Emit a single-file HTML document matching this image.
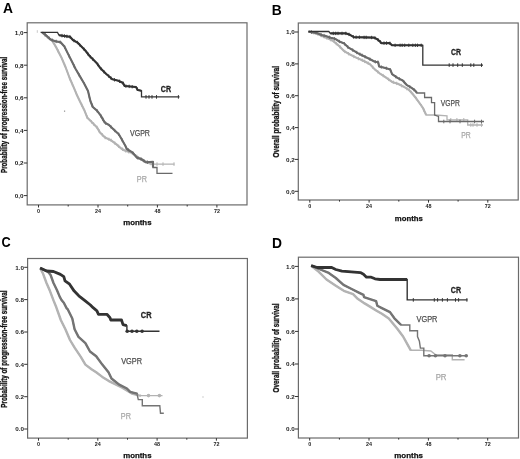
<!DOCTYPE html><html><head><meta charset="utf-8"><style>html,body{margin:0;padding:0;background:#fff;}svg{display:block;filter:blur(0.2px);}</style></head><body>
<svg width="520" height="459" viewBox="0 0 520 459" font-family='"Liberation Sans", sans-serif'>
<rect width="520" height="459" fill="#fff"/>
<text x="3.0" y="12.7" font-size="14" font-weight="bold" fill="#000" textLength="10" lengthAdjust="spacingAndGlyphs">A</text>
<rect x="27.2" y="22.8" width="219.8" height="182.1" fill="none" stroke="#6b6b6b" stroke-width="1.2"/>
<line x1="23.8" y1="195.6" x2="27.2" y2="195.6" stroke="#333" stroke-width="1"/>
<text x="23.6" y="198.0" font-size="5.6" font-weight="bold" fill="#222" text-anchor="end" textLength="8.8" lengthAdjust="spacingAndGlyphs">0,0</text>
<line x1="23.8" y1="163.0" x2="27.2" y2="163.0" stroke="#333" stroke-width="1"/>
<text x="23.6" y="165.4" font-size="5.6" font-weight="bold" fill="#222" text-anchor="end" textLength="8.8" lengthAdjust="spacingAndGlyphs">0,2</text>
<line x1="23.8" y1="130.4" x2="27.2" y2="130.4" stroke="#333" stroke-width="1"/>
<text x="23.6" y="132.8" font-size="5.6" font-weight="bold" fill="#222" text-anchor="end" textLength="8.8" lengthAdjust="spacingAndGlyphs">0,4</text>
<line x1="23.8" y1="97.8" x2="27.2" y2="97.8" stroke="#333" stroke-width="1"/>
<text x="23.6" y="100.2" font-size="5.6" font-weight="bold" fill="#222" text-anchor="end" textLength="8.8" lengthAdjust="spacingAndGlyphs">0,6</text>
<line x1="23.8" y1="65.2" x2="27.2" y2="65.2" stroke="#333" stroke-width="1"/>
<text x="23.6" y="67.6" font-size="5.6" font-weight="bold" fill="#222" text-anchor="end" textLength="8.8" lengthAdjust="spacingAndGlyphs">0,8</text>
<line x1="23.8" y1="32.6" x2="27.2" y2="32.6" stroke="#333" stroke-width="1"/>
<text x="23.6" y="35.0" font-size="5.6" font-weight="bold" fill="#222" text-anchor="end" textLength="8.8" lengthAdjust="spacingAndGlyphs">1,0</text>
<line x1="38.5" y1="204.9" x2="38.5" y2="207.5" stroke="#333" stroke-width="1"/>
<text x="38.5" y="212.7" font-size="5.4" font-weight="bold" fill="#222" text-anchor="middle">0</text>
<line x1="68.2" y1="204.9" x2="68.2" y2="206.5" stroke="#333" stroke-width="1"/>
<line x1="98.0" y1="204.9" x2="98.0" y2="207.5" stroke="#333" stroke-width="1"/>
<text x="98.0" y="212.7" font-size="5.4" font-weight="bold" fill="#222" text-anchor="middle">24</text>
<line x1="127.7" y1="204.9" x2="127.7" y2="206.5" stroke="#333" stroke-width="1"/>
<line x1="157.4" y1="204.9" x2="157.4" y2="207.5" stroke="#333" stroke-width="1"/>
<text x="157.4" y="212.7" font-size="5.4" font-weight="bold" fill="#222" text-anchor="middle">48</text>
<line x1="187.2" y1="204.9" x2="187.2" y2="206.5" stroke="#333" stroke-width="1"/>
<line x1="216.9" y1="204.9" x2="216.9" y2="207.5" stroke="#333" stroke-width="1"/>
<text x="216.9" y="212.7" font-size="5.4" font-weight="bold" fill="#222" text-anchor="middle">72</text>
<text x="123.2" y="224.5" font-size="7.8" font-weight="bold" fill="#111" stroke="#111" stroke-width="0.25" textLength="28.3" lengthAdjust="spacingAndGlyphs">months</text>
<text transform="translate(7.0,173.0) rotate(-90)" x="0" y="0" font-size="8.2" font-weight="bold" fill="#111" stroke="#111" stroke-width="0.3" textLength="116.2" lengthAdjust="spacingAndGlyphs">Probability of progression-free survival</text>
<polyline points="42.2,32.4 46.0,36.0 51.0,39.8 52.6,41.3 56.5,47.9 61.8,58.3 65.7,67.5 69.6,78.0 73.6,87.1 77.5,96.3 80.0,101.5 84.6,110.8 87.4,117.8 92.2,122.6 97.0,127.4 100.0,132.5 105.0,137.5 110.8,140.1 116.5,144.4 121.2,148.5 124.6,150.5 127.7,151.5 132.3,153.0 137.0,156.5 141.5,159.5 146.0,162.0 150.0,163.5 153.0,164.1 174.5,164.1" fill="none" stroke="#b3b3b3" stroke-width="1.3" stroke-linejoin="miter" stroke-linecap="butt"/>
<polyline points="42.2,32.4 46.0,36.0 51.0,39.8 52.6,41.3 56.5,47.9 61.8,58.3 65.7,67.5 69.6,78.0 73.6,87.1 77.5,96.3 80.0,101.5 84.6,110.8 87.4,117.8 92.2,122.6 97.0,127.4 100.0,132.5 105.0,137.5 110.8,140.1 116.5,144.4 121.2,148.5 124.6,150.5 127.7,151.5 132.3,153.0 137.0,156.5 141.5,159.5 146.0,162.0 150.0,163.5 153.0,164.1" fill="none" stroke="#b3b3b3" stroke-width="2.1" stroke-linejoin="round" stroke-linecap="butt"/>
<line x1="45.2" y1="33.5" x2="45.2" y2="36.9" stroke="#b3b3b3" stroke-width="0.9"/>
<line x1="47.4" y1="35.4" x2="47.4" y2="38.8" stroke="#b3b3b3" stroke-width="0.9"/>
<line x1="52.7" y1="39.8" x2="52.7" y2="43.2" stroke="#b3b3b3" stroke-width="0.9"/>
<line x1="57.9" y1="49.0" x2="57.9" y2="52.4" stroke="#b3b3b3" stroke-width="0.9"/>
<line x1="61.5" y1="56.0" x2="61.5" y2="59.4" stroke="#b3b3b3" stroke-width="0.9"/>
<line x1="64.6" y1="63.2" x2="64.6" y2="66.6" stroke="#b3b3b3" stroke-width="0.9"/>
<line x1="70.0" y1="77.2" x2="70.0" y2="80.6" stroke="#b3b3b3" stroke-width="0.9"/>
<line x1="72.4" y1="82.7" x2="72.4" y2="86.1" stroke="#b3b3b3" stroke-width="0.9"/>
<line x1="76.4" y1="91.9" x2="76.4" y2="95.3" stroke="#b3b3b3" stroke-width="0.9"/>
<line x1="81.7" y1="103.3" x2="81.7" y2="106.7" stroke="#b3b3b3" stroke-width="0.9"/>
<line x1="87.2" y1="115.5" x2="87.2" y2="118.9" stroke="#b3b3b3" stroke-width="0.9"/>
<line x1="91.5" y1="120.2" x2="91.5" y2="123.6" stroke="#b3b3b3" stroke-width="0.9"/>
<line x1="93.6" y1="122.3" x2="93.6" y2="125.7" stroke="#b3b3b3" stroke-width="0.9"/>
<line x1="97.0" y1="125.7" x2="97.0" y2="129.1" stroke="#b3b3b3" stroke-width="0.9"/>
<line x1="99.0" y1="129.1" x2="99.0" y2="132.5" stroke="#b3b3b3" stroke-width="0.9"/>
<line x1="102.4" y1="133.2" x2="102.4" y2="136.6" stroke="#b3b3b3" stroke-width="0.9"/>
<line x1="105.2" y1="135.9" x2="105.2" y2="139.3" stroke="#b3b3b3" stroke-width="0.9"/>
<line x1="108.9" y1="137.6" x2="108.9" y2="141.0" stroke="#b3b3b3" stroke-width="0.9"/>
<line x1="111.1" y1="138.6" x2="111.1" y2="142.0" stroke="#b3b3b3" stroke-width="0.9"/>
<line x1="114.8" y1="141.4" x2="114.8" y2="144.8" stroke="#b3b3b3" stroke-width="0.9"/>
<line x1="118.7" y1="144.6" x2="118.7" y2="148.0" stroke="#b3b3b3" stroke-width="0.9"/>
<line x1="122.5" y1="147.6" x2="122.5" y2="151.0" stroke="#b3b3b3" stroke-width="0.9"/>
<line x1="125.7" y1="149.2" x2="125.7" y2="152.6" stroke="#b3b3b3" stroke-width="0.9"/>
<line x1="128.7" y1="150.1" x2="128.7" y2="153.5" stroke="#b3b3b3" stroke-width="0.9"/>
<line x1="132.1" y1="151.2" x2="132.1" y2="154.6" stroke="#b3b3b3" stroke-width="0.9"/>
<line x1="136.9" y1="154.7" x2="136.9" y2="158.1" stroke="#b3b3b3" stroke-width="0.9"/>
<line x1="140.6" y1="157.2" x2="140.6" y2="160.6" stroke="#b3b3b3" stroke-width="0.9"/>
<line x1="142.9" y1="158.6" x2="142.9" y2="162.0" stroke="#b3b3b3" stroke-width="0.9"/>
<line x1="146.2" y1="160.4" x2="146.2" y2="163.8" stroke="#b3b3b3" stroke-width="0.9"/>
<line x1="151.0" y1="162.0" x2="151.0" y2="165.4" stroke="#b3b3b3" stroke-width="0.9"/>
<line x1="157" y1="162.3" x2="157" y2="165.9" stroke="#b3b3b3" stroke-width="1"/>
<line x1="163" y1="162.3" x2="163" y2="165.9" stroke="#b3b3b3" stroke-width="1"/>
<line x1="174" y1="162.3" x2="174" y2="165.9" stroke="#b3b3b3" stroke-width="1"/>
<polyline points="42.2,32.4 46.0,35.2 50.6,39.5 56.0,41.4 60.6,42.2 64.4,46.5 68.3,54.4 72.3,62.3 75.5,68.8 80.1,76.6 84.0,83.2 88.0,91.0 90.4,101.0 92.8,107.0 97.0,110.6 100.6,115.4 104.8,122.6 109.0,125.0 114.2,130.0 118.8,134.3 121.7,139.2 124.6,144.4 126.9,149.0 132.3,152.3 137.0,157.7 141.5,159.2 146.0,162.3 153.0,161.8 153.0,167.5 157.0,167.5 157.0,173.3 172.5,173.3" fill="none" stroke="#6a6a6a" stroke-width="1.3" stroke-linejoin="miter" stroke-linecap="butt"/>
<polyline points="42.2,32.4 46.0,35.2 50.6,39.5 56.0,41.4 60.6,42.2 64.4,46.5 68.3,54.4 72.3,62.3 75.5,68.8 80.1,76.6 84.0,83.2 88.0,91.0 90.4,101.0 92.8,107.0 97.0,110.6 100.6,115.4 104.8,122.6 109.0,125.0 114.2,130.0 118.8,134.3 121.7,139.2 124.6,144.4 126.9,149.0 132.3,152.3 137.0,157.7 141.5,159.2 146.0,162.3 153.0,161.8 153.0,167.5" fill="none" stroke="#6a6a6a" stroke-width="2.1" stroke-linejoin="round" stroke-linecap="butt"/>
<line x1="45.2" y1="32.9" x2="45.2" y2="36.3" stroke="#6a6a6a" stroke-width="0.9"/>
<line x1="49.4" y1="36.7" x2="49.4" y2="40.1" stroke="#6a6a6a" stroke-width="0.9"/>
<line x1="52.2" y1="38.4" x2="52.2" y2="41.8" stroke="#6a6a6a" stroke-width="0.9"/>
<line x1="56.2" y1="39.7" x2="56.2" y2="43.1" stroke="#6a6a6a" stroke-width="0.9"/>
<line x1="60.1" y1="40.4" x2="60.1" y2="43.8" stroke="#6a6a6a" stroke-width="0.9"/>
<line x1="64.7" y1="45.5" x2="64.7" y2="48.9" stroke="#6a6a6a" stroke-width="0.9"/>
<line x1="69.2" y1="54.5" x2="69.2" y2="57.9" stroke="#6a6a6a" stroke-width="0.9"/>
<line x1="74.0" y1="64.1" x2="74.0" y2="67.5" stroke="#6a6a6a" stroke-width="0.9"/>
<line x1="79.2" y1="73.4" x2="79.2" y2="76.8" stroke="#6a6a6a" stroke-width="0.9"/>
<line x1="84.5" y1="82.5" x2="84.5" y2="85.9" stroke="#6a6a6a" stroke-width="0.9"/>
<line x1="89.3" y1="94.9" x2="89.3" y2="98.3" stroke="#6a6a6a" stroke-width="0.9"/>
<line x1="92.2" y1="103.7" x2="92.2" y2="107.1" stroke="#6a6a6a" stroke-width="0.9"/>
<line x1="97.0" y1="109.0" x2="97.0" y2="112.4" stroke="#6a6a6a" stroke-width="0.9"/>
<line x1="100.8" y1="114.1" x2="100.8" y2="117.5" stroke="#6a6a6a" stroke-width="0.9"/>
<line x1="102.9" y1="117.6" x2="102.9" y2="121.0" stroke="#6a6a6a" stroke-width="0.9"/>
<line x1="105.6" y1="121.4" x2="105.6" y2="124.8" stroke="#6a6a6a" stroke-width="0.9"/>
<line x1="110.9" y1="125.1" x2="110.9" y2="128.5" stroke="#6a6a6a" stroke-width="0.9"/>
<line x1="114.7" y1="128.8" x2="114.7" y2="132.2" stroke="#6a6a6a" stroke-width="0.9"/>
<line x1="118.7" y1="132.5" x2="118.7" y2="135.9" stroke="#6a6a6a" stroke-width="0.9"/>
<line x1="122.1" y1="138.2" x2="122.1" y2="141.6" stroke="#6a6a6a" stroke-width="0.9"/>
<line x1="125.7" y1="145.0" x2="125.7" y2="148.4" stroke="#6a6a6a" stroke-width="0.9"/>
<line x1="128.2" y1="148.1" x2="128.2" y2="151.5" stroke="#6a6a6a" stroke-width="0.9"/>
<line x1="133.3" y1="151.8" x2="133.3" y2="155.2" stroke="#6a6a6a" stroke-width="0.9"/>
<line x1="137.9" y1="156.3" x2="137.9" y2="159.7" stroke="#6a6a6a" stroke-width="0.9"/>
<line x1="141.2" y1="157.4" x2="141.2" y2="160.8" stroke="#6a6a6a" stroke-width="0.9"/>
<line x1="144.0" y1="159.2" x2="144.0" y2="162.6" stroke="#6a6a6a" stroke-width="0.9"/>
<line x1="147.5" y1="160.5" x2="147.5" y2="163.9" stroke="#6a6a6a" stroke-width="0.9"/>
<polyline points="40.6,32.4 57.5,32.4 59.0,35.2 67.0,36.4 70.0,36.8 72.9,40.0 77.5,42.6 81.4,46.5 85.3,50.5 89.3,55.7 93.2,59.6 97.1,63.6 100.0,67.7 106.0,73.8 112.3,79.2 118.5,80.8 123.0,83.0 124.6,86.0 136.0,87.0 137.7,90.0 141.5,90.8 141.5,96.9 179.5,96.9" fill="none" stroke="#333" stroke-width="1.3" stroke-linejoin="miter" stroke-linecap="butt"/>
<polyline points="59.0,35.2 59.0,35.2 67.0,36.4 70.0,36.8 72.9,40.0 77.5,42.6 81.4,46.5 85.3,50.5 89.3,55.7 93.2,59.6 97.1,63.6 100.0,67.7 106.0,73.8 112.3,79.2 118.5,80.8 123.0,83.0 124.6,86.0 136.0,87.0 137.7,90.0 141.3,90.8" fill="none" stroke="#333" stroke-width="2.1" stroke-linejoin="round" stroke-linecap="butt"/>
<line x1="62.0" y1="33.9" x2="62.0" y2="37.4" stroke="#333" stroke-width="0.9"/>
<line x1="64.5" y1="34.3" x2="64.5" y2="37.7" stroke="#333" stroke-width="0.9"/>
<line x1="66.9" y1="34.7" x2="66.9" y2="38.1" stroke="#333" stroke-width="0.9"/>
<line x1="69.9" y1="35.1" x2="69.9" y2="38.5" stroke="#333" stroke-width="0.9"/>
<line x1="74.0" y1="38.9" x2="74.0" y2="42.3" stroke="#333" stroke-width="0.9"/>
<line x1="77.4" y1="40.8" x2="77.4" y2="44.2" stroke="#333" stroke-width="0.9"/>
<line x1="79.6" y1="43.0" x2="79.6" y2="46.4" stroke="#333" stroke-width="0.9"/>
<line x1="84.1" y1="47.6" x2="84.1" y2="51.0" stroke="#333" stroke-width="0.9"/>
<line x1="87.8" y1="52.1" x2="87.8" y2="55.5" stroke="#333" stroke-width="0.9"/>
<line x1="90.3" y1="55.0" x2="90.3" y2="58.4" stroke="#333" stroke-width="0.9"/>
<line x1="92.8" y1="57.5" x2="92.8" y2="60.9" stroke="#333" stroke-width="0.9"/>
<line x1="97.8" y1="62.8" x2="97.8" y2="66.2" stroke="#333" stroke-width="0.9"/>
<line x1="101.0" y1="67.0" x2="101.0" y2="70.4" stroke="#333" stroke-width="0.9"/>
<line x1="103.9" y1="70.0" x2="103.9" y2="73.4" stroke="#333" stroke-width="0.9"/>
<line x1="108.7" y1="74.4" x2="108.7" y2="77.8" stroke="#333" stroke-width="0.9"/>
<line x1="110.9" y1="76.3" x2="110.9" y2="79.7" stroke="#333" stroke-width="0.9"/>
<line x1="114.5" y1="78.1" x2="114.5" y2="81.5" stroke="#333" stroke-width="0.9"/>
<line x1="119.6" y1="79.6" x2="119.6" y2="83.0" stroke="#333" stroke-width="0.9"/>
<line x1="123.0" y1="81.4" x2="123.0" y2="84.8" stroke="#333" stroke-width="0.9"/>
<line x1="125.9" y1="84.4" x2="125.9" y2="87.8" stroke="#333" stroke-width="0.9"/>
<line x1="129.2" y1="84.7" x2="129.2" y2="88.1" stroke="#333" stroke-width="0.9"/>
<line x1="132.2" y1="85.0" x2="132.2" y2="88.4" stroke="#333" stroke-width="0.9"/>
<line x1="137.2" y1="87.3" x2="137.2" y2="90.7" stroke="#333" stroke-width="0.9"/>
<line x1="146" y1="95.1" x2="146" y2="98.7" stroke="#333" stroke-width="1"/>
<line x1="149" y1="95.1" x2="149" y2="98.7" stroke="#333" stroke-width="1"/>
<line x1="152" y1="95.1" x2="152" y2="98.7" stroke="#333" stroke-width="1"/>
<line x1="156.5" y1="95.1" x2="156.5" y2="98.7" stroke="#333" stroke-width="1"/>
<line x1="178.4" y1="95.1" x2="178.4" y2="98.7" stroke="#333" stroke-width="1"/>
<text x="160.8" y="91.5" font-size="8.6" font-weight="bold" fill="#222" stroke="#222" stroke-width="0.3" textLength="10.3" lengthAdjust="spacingAndGlyphs">CR</text>
<text x="130" y="136.0" font-size="8.3" font-weight="normal" fill="#505050" stroke="#505050" stroke-width="0.25" textLength="19.9" lengthAdjust="spacingAndGlyphs">VGPR</text>
<text x="136.8" y="181.6" font-size="8.3" font-weight="normal" fill="#a8a8a8" stroke="#a8a8a8" stroke-width="0.25" textLength="10.1" lengthAdjust="spacingAndGlyphs">PR</text>
<text x="271.8" y="14.6" font-size="14" font-weight="bold" fill="#000" textLength="10" lengthAdjust="spacingAndGlyphs">B</text>
<rect x="298.3" y="23.0" width="219.9" height="177.0" fill="none" stroke="#6b6b6b" stroke-width="1.2"/>
<line x1="294.9" y1="191.3" x2="298.3" y2="191.3" stroke="#333" stroke-width="1"/>
<text x="294.7" y="193.7" font-size="5.6" font-weight="bold" fill="#222" text-anchor="end" textLength="8.8" lengthAdjust="spacingAndGlyphs">0,0</text>
<line x1="294.9" y1="159.4" x2="298.3" y2="159.4" stroke="#333" stroke-width="1"/>
<text x="294.7" y="161.8" font-size="5.6" font-weight="bold" fill="#222" text-anchor="end" textLength="8.8" lengthAdjust="spacingAndGlyphs">0,2</text>
<line x1="294.9" y1="127.6" x2="298.3" y2="127.6" stroke="#333" stroke-width="1"/>
<text x="294.7" y="130.0" font-size="5.6" font-weight="bold" fill="#222" text-anchor="end" textLength="8.8" lengthAdjust="spacingAndGlyphs">0,4</text>
<line x1="294.9" y1="95.7" x2="298.3" y2="95.7" stroke="#333" stroke-width="1"/>
<text x="294.7" y="98.1" font-size="5.6" font-weight="bold" fill="#222" text-anchor="end" textLength="8.8" lengthAdjust="spacingAndGlyphs">0,6</text>
<line x1="294.9" y1="63.9" x2="298.3" y2="63.9" stroke="#333" stroke-width="1"/>
<text x="294.7" y="66.3" font-size="5.6" font-weight="bold" fill="#222" text-anchor="end" textLength="8.8" lengthAdjust="spacingAndGlyphs">0,8</text>
<line x1="294.9" y1="32.0" x2="298.3" y2="32.0" stroke="#333" stroke-width="1"/>
<text x="294.7" y="34.4" font-size="5.6" font-weight="bold" fill="#222" text-anchor="end" textLength="8.8" lengthAdjust="spacingAndGlyphs">1,0</text>
<line x1="309.8" y1="200.0" x2="309.8" y2="202.6" stroke="#333" stroke-width="1"/>
<text x="309.8" y="207.8" font-size="5.4" font-weight="bold" fill="#222" text-anchor="middle">0</text>
<line x1="339.5" y1="200.0" x2="339.5" y2="201.6" stroke="#333" stroke-width="1"/>
<line x1="369.1" y1="200.0" x2="369.1" y2="202.6" stroke="#333" stroke-width="1"/>
<text x="369.1" y="207.8" font-size="5.4" font-weight="bold" fill="#222" text-anchor="middle">24</text>
<line x1="398.8" y1="200.0" x2="398.8" y2="201.6" stroke="#333" stroke-width="1"/>
<line x1="428.5" y1="200.0" x2="428.5" y2="202.6" stroke="#333" stroke-width="1"/>
<text x="428.5" y="207.8" font-size="5.4" font-weight="bold" fill="#222" text-anchor="middle">48</text>
<line x1="458.1" y1="200.0" x2="458.1" y2="201.6" stroke="#333" stroke-width="1"/>
<line x1="487.8" y1="200.0" x2="487.8" y2="202.6" stroke="#333" stroke-width="1"/>
<text x="487.8" y="207.8" font-size="5.4" font-weight="bold" fill="#222" text-anchor="middle">72</text>
<text x="394.8" y="220.6" font-size="7.8" font-weight="bold" fill="#111" stroke="#111" stroke-width="0.25" textLength="28.0" lengthAdjust="spacingAndGlyphs">months</text>
<text transform="translate(279.2,157.5) rotate(-90)" x="0" y="0" font-size="8.2" font-weight="bold" fill="#111" stroke="#111" stroke-width="0.3" textLength="91.5" lengthAdjust="spacingAndGlyphs">Overall probability of survival</text>
<polyline points="308.5,31.6 316.5,33.5 325.0,37.2 332.7,40.6 339.4,46.3 344.2,51.2 350.0,54.5 356.7,57.9 363.5,60.8 370.0,64.2 374.8,69.4 379.6,73.3 385.4,77.1 392.1,81.9 397.9,83.8 403.7,86.7 408.5,89.6 412.3,93.5 416.5,98.8 422.7,107.5 426.2,115.0 435.4,115.0 447.0,115.8 447.0,119.8 467.7,119.8 467.7,125.0 483.0,125.0" fill="none" stroke="#b3b3b3" stroke-width="1.3" stroke-linejoin="miter" stroke-linecap="butt"/>
<polyline points="308.5,31.6 316.5,33.5 325.0,37.2 332.7,40.6 339.4,46.3 344.2,51.2 350.0,54.5 356.7,57.9 363.5,60.8 370.0,64.2 374.8,69.4 379.6,73.3 385.4,77.1 392.1,81.9 397.9,83.8 403.7,86.7 408.5,89.6 412.3,93.5 416.5,98.8 422.7,107.5 426.2,115.0" fill="none" stroke="#b3b3b3" stroke-width="2.1" stroke-linejoin="round" stroke-linecap="butt"/>
<line x1="311.5" y1="30.6" x2="311.5" y2="34.0" stroke="#b3b3b3" stroke-width="0.9"/>
<line x1="313.9" y1="31.2" x2="313.9" y2="34.6" stroke="#b3b3b3" stroke-width="0.9"/>
<line x1="317.9" y1="32.4" x2="317.9" y2="35.8" stroke="#b3b3b3" stroke-width="0.9"/>
<line x1="321.2" y1="33.9" x2="321.2" y2="37.3" stroke="#b3b3b3" stroke-width="0.9"/>
<line x1="324.1" y1="35.1" x2="324.1" y2="38.5" stroke="#b3b3b3" stroke-width="0.9"/>
<line x1="326.7" y1="36.2" x2="326.7" y2="39.6" stroke="#b3b3b3" stroke-width="0.9"/>
<line x1="331.0" y1="38.2" x2="331.0" y2="41.6" stroke="#b3b3b3" stroke-width="0.9"/>
<line x1="336.3" y1="41.9" x2="336.3" y2="45.3" stroke="#b3b3b3" stroke-width="0.9"/>
<line x1="340.0" y1="45.2" x2="340.0" y2="48.6" stroke="#b3b3b3" stroke-width="0.9"/>
<line x1="344.8" y1="49.8" x2="344.8" y2="53.2" stroke="#b3b3b3" stroke-width="0.9"/>
<line x1="348.5" y1="52.0" x2="348.5" y2="55.4" stroke="#b3b3b3" stroke-width="0.9"/>
<line x1="353.8" y1="54.8" x2="353.8" y2="58.2" stroke="#b3b3b3" stroke-width="0.9"/>
<line x1="358.4" y1="56.9" x2="358.4" y2="60.3" stroke="#b3b3b3" stroke-width="0.9"/>
<line x1="362.3" y1="58.6" x2="362.3" y2="62.0" stroke="#b3b3b3" stroke-width="0.9"/>
<line x1="364.6" y1="59.7" x2="364.6" y2="63.1" stroke="#b3b3b3" stroke-width="0.9"/>
<line x1="368.2" y1="61.5" x2="368.2" y2="64.9" stroke="#b3b3b3" stroke-width="0.9"/>
<line x1="372.8" y1="65.6" x2="372.8" y2="69.0" stroke="#b3b3b3" stroke-width="0.9"/>
<line x1="377.8" y1="70.1" x2="377.8" y2="73.5" stroke="#b3b3b3" stroke-width="0.9"/>
<line x1="383.2" y1="73.9" x2="383.2" y2="77.3" stroke="#b3b3b3" stroke-width="0.9"/>
<line x1="388.6" y1="77.7" x2="388.6" y2="81.1" stroke="#b3b3b3" stroke-width="0.9"/>
<line x1="393.4" y1="80.6" x2="393.4" y2="84.0" stroke="#b3b3b3" stroke-width="0.9"/>
<line x1="396.7" y1="81.7" x2="396.7" y2="85.1" stroke="#b3b3b3" stroke-width="0.9"/>
<line x1="401.5" y1="83.9" x2="401.5" y2="87.3" stroke="#b3b3b3" stroke-width="0.9"/>
<line x1="406.9" y1="87.0" x2="406.9" y2="90.4" stroke="#b3b3b3" stroke-width="0.9"/>
<line x1="411.4" y1="90.8" x2="411.4" y2="94.2" stroke="#b3b3b3" stroke-width="0.9"/>
<line x1="416.4" y1="96.9" x2="416.4" y2="100.3" stroke="#b3b3b3" stroke-width="0.9"/>
<line x1="421.4" y1="104.0" x2="421.4" y2="107.4" stroke="#b3b3b3" stroke-width="0.9"/>
<line x1="424.0" y1="108.6" x2="424.0" y2="112.0" stroke="#b3b3b3" stroke-width="0.9"/>
<line x1="450.8" y1="118.0" x2="450.8" y2="121.6" stroke="#b3b3b3" stroke-width="1"/>
<line x1="456.9" y1="118.0" x2="456.9" y2="121.6" stroke="#b3b3b3" stroke-width="1"/>
<line x1="463.8" y1="118.0" x2="463.8" y2="121.6" stroke="#b3b3b3" stroke-width="1"/>
<line x1="470.8" y1="123.2" x2="470.8" y2="126.8" stroke="#b3b3b3" stroke-width="1"/>
<line x1="473" y1="123.2" x2="473" y2="126.8" stroke="#b3b3b3" stroke-width="1"/>
<line x1="477" y1="123.2" x2="477" y2="126.8" stroke="#b3b3b3" stroke-width="1"/>
<line x1="481.5" y1="123.2" x2="481.5" y2="126.8" stroke="#b3b3b3" stroke-width="1"/>
<polyline points="308.5,31.6 316.5,32.9 322.3,35.2 325.0,35.8 330.8,37.7 335.6,39.1 339.4,41.5 344.2,43.5 348.1,47.3 352.9,50.2 357.7,53.1 363.5,56.0 369.2,58.8 374.8,61.7 378.2,62.2 379.1,66.5 385.4,68.0 390.2,69.4 392.1,74.2 397.9,78.1 402.7,80.5 406.5,84.8 411.3,87.7 415.2,90.6 417.0,93.0 424.6,93.0 424.6,97.5 431.5,97.5 431.5,102.7 434.6,102.7 434.6,115.0 438.5,116.5 438.5,121.5 484.0,121.5" fill="none" stroke="#6a6a6a" stroke-width="1.3" stroke-linejoin="miter" stroke-linecap="butt"/>
<polyline points="308.5,31.6 316.5,32.9 322.3,35.2 325.0,35.8 330.8,37.7 335.6,39.1 339.4,41.5 344.2,43.5 348.1,47.3 352.9,50.2 357.7,53.1 363.5,56.0 369.2,58.8 374.8,61.7 378.2,62.2 379.1,66.5 385.4,68.0 390.2,69.4 392.1,74.2 397.9,78.1 402.7,80.5 406.5,84.8 411.3,87.7 415.2,90.6 417.0,93.0" fill="none" stroke="#6a6a6a" stroke-width="2.1" stroke-linejoin="round" stroke-linecap="butt"/>
<line x1="311.5" y1="30.4" x2="311.5" y2="33.8" stroke="#6a6a6a" stroke-width="0.9"/>
<line x1="315.9" y1="31.1" x2="315.9" y2="34.5" stroke="#6a6a6a" stroke-width="0.9"/>
<line x1="321.1" y1="33.0" x2="321.1" y2="36.4" stroke="#6a6a6a" stroke-width="0.9"/>
<line x1="324.1" y1="33.9" x2="324.1" y2="37.3" stroke="#6a6a6a" stroke-width="0.9"/>
<line x1="329.4" y1="35.6" x2="329.4" y2="39.0" stroke="#6a6a6a" stroke-width="0.9"/>
<line x1="334.5" y1="37.1" x2="334.5" y2="40.5" stroke="#6a6a6a" stroke-width="0.9"/>
<line x1="339.4" y1="39.8" x2="339.4" y2="43.2" stroke="#6a6a6a" stroke-width="0.9"/>
<line x1="344.5" y1="42.1" x2="344.5" y2="45.5" stroke="#6a6a6a" stroke-width="0.9"/>
<line x1="347.8" y1="45.3" x2="347.8" y2="48.7" stroke="#6a6a6a" stroke-width="0.9"/>
<line x1="352.7" y1="48.4" x2="352.7" y2="51.8" stroke="#6a6a6a" stroke-width="0.9"/>
<line x1="356.8" y1="50.8" x2="356.8" y2="54.2" stroke="#6a6a6a" stroke-width="0.9"/>
<line x1="359.9" y1="52.5" x2="359.9" y2="55.9" stroke="#6a6a6a" stroke-width="0.9"/>
<line x1="362.1" y1="53.6" x2="362.1" y2="57.0" stroke="#6a6a6a" stroke-width="0.9"/>
<line x1="365.1" y1="55.1" x2="365.1" y2="58.5" stroke="#6a6a6a" stroke-width="0.9"/>
<line x1="369.9" y1="57.5" x2="369.9" y2="60.9" stroke="#6a6a6a" stroke-width="0.9"/>
<line x1="375.4" y1="60.1" x2="375.4" y2="63.5" stroke="#6a6a6a" stroke-width="0.9"/>
<line x1="377.9" y1="60.4" x2="377.9" y2="63.8" stroke="#6a6a6a" stroke-width="0.9"/>
<line x1="381.3" y1="65.3" x2="381.3" y2="68.7" stroke="#6a6a6a" stroke-width="0.9"/>
<line x1="386.3" y1="66.6" x2="386.3" y2="70.0" stroke="#6a6a6a" stroke-width="0.9"/>
<line x1="390.4" y1="68.3" x2="390.4" y2="71.7" stroke="#6a6a6a" stroke-width="0.9"/>
<line x1="395.8" y1="75.0" x2="395.8" y2="78.4" stroke="#6a6a6a" stroke-width="0.9"/>
<line x1="399.3" y1="77.1" x2="399.3" y2="80.5" stroke="#6a6a6a" stroke-width="0.9"/>
<line x1="404.4" y1="80.7" x2="404.4" y2="84.1" stroke="#6a6a6a" stroke-width="0.9"/>
<line x1="409.8" y1="85.1" x2="409.8" y2="88.5" stroke="#6a6a6a" stroke-width="0.9"/>
<line x1="414.1" y1="88.1" x2="414.1" y2="91.5" stroke="#6a6a6a" stroke-width="0.9"/>
<line x1="443.8" y1="119.7" x2="443.8" y2="123.3" stroke="#6a6a6a" stroke-width="1"/>
<line x1="450" y1="119.7" x2="450" y2="123.3" stroke="#6a6a6a" stroke-width="1"/>
<line x1="460" y1="119.7" x2="460" y2="123.3" stroke="#6a6a6a" stroke-width="1"/>
<line x1="474.6" y1="119.7" x2="474.6" y2="123.3" stroke="#6a6a6a" stroke-width="1"/>
<line x1="481.5" y1="119.7" x2="481.5" y2="123.3" stroke="#6a6a6a" stroke-width="1"/>
<polyline points="308.5,31.5 328.8,31.5 330.3,33.4 346.2,33.4 350.0,34.8 353.8,37.1 374.2,37.6 377.1,39.1 380.0,41.5 381.4,43.2 389.6,43.0 392.0,45.3 422.8,45.3 422.8,65.1 483.0,65.1" fill="none" stroke="#333" stroke-width="1.3" stroke-linejoin="miter" stroke-linecap="butt"/>
<polyline points="330.3,33.4 330.3,33.4 346.2,33.4 350.0,34.8 353.8,37.1 374.2,37.6 377.1,39.1 380.0,41.5 381.4,43.2 389.6,43.0 392.0,45.3 422.6,45.3" fill="none" stroke="#333" stroke-width="2.1" stroke-linejoin="round" stroke-linecap="butt"/>
<line x1="333.3" y1="31.7" x2="333.3" y2="35.1" stroke="#333" stroke-width="0.9"/>
<line x1="335.7" y1="31.7" x2="335.7" y2="35.1" stroke="#333" stroke-width="0.9"/>
<line x1="338.0" y1="31.7" x2="338.0" y2="35.1" stroke="#333" stroke-width="0.9"/>
<line x1="342.0" y1="31.7" x2="342.0" y2="35.1" stroke="#333" stroke-width="0.9"/>
<line x1="345.8" y1="31.7" x2="345.8" y2="35.1" stroke="#333" stroke-width="0.9"/>
<line x1="349.0" y1="32.7" x2="349.0" y2="36.1" stroke="#333" stroke-width="0.9"/>
<line x1="353.5" y1="35.2" x2="353.5" y2="38.6" stroke="#333" stroke-width="0.9"/>
<line x1="356.1" y1="35.5" x2="356.1" y2="38.9" stroke="#333" stroke-width="0.9"/>
<line x1="359.4" y1="35.5" x2="359.4" y2="38.9" stroke="#333" stroke-width="0.9"/>
<line x1="364.1" y1="35.7" x2="364.1" y2="39.1" stroke="#333" stroke-width="0.9"/>
<line x1="366.2" y1="35.7" x2="366.2" y2="39.1" stroke="#333" stroke-width="0.9"/>
<line x1="371.6" y1="35.8" x2="371.6" y2="39.2" stroke="#333" stroke-width="0.9"/>
<line x1="375.0" y1="36.3" x2="375.0" y2="39.7" stroke="#333" stroke-width="0.9"/>
<line x1="378.2" y1="38.3" x2="378.2" y2="41.7" stroke="#333" stroke-width="0.9"/>
<line x1="380.4" y1="40.3" x2="380.4" y2="43.7" stroke="#333" stroke-width="0.9"/>
<line x1="384.0" y1="41.4" x2="384.0" y2="44.8" stroke="#333" stroke-width="0.9"/>
<line x1="386.5" y1="41.4" x2="386.5" y2="44.8" stroke="#333" stroke-width="0.9"/>
<line x1="389.9" y1="41.6" x2="389.9" y2="45.0" stroke="#333" stroke-width="0.9"/>
<line x1="395.1" y1="43.6" x2="395.1" y2="47.0" stroke="#333" stroke-width="0.9"/>
<line x1="400.1" y1="43.6" x2="400.1" y2="47.0" stroke="#333" stroke-width="0.9"/>
<line x1="402.2" y1="43.6" x2="402.2" y2="47.0" stroke="#333" stroke-width="0.9"/>
<line x1="404.7" y1="43.6" x2="404.7" y2="47.0" stroke="#333" stroke-width="0.9"/>
<line x1="408.8" y1="43.6" x2="408.8" y2="47.0" stroke="#333" stroke-width="0.9"/>
<line x1="412.8" y1="43.6" x2="412.8" y2="47.0" stroke="#333" stroke-width="0.9"/>
<line x1="415.4" y1="43.6" x2="415.4" y2="47.0" stroke="#333" stroke-width="0.9"/>
<line x1="417.5" y1="43.6" x2="417.5" y2="47.0" stroke="#333" stroke-width="0.9"/>
<line x1="421.2" y1="43.6" x2="421.2" y2="47.0" stroke="#333" stroke-width="0.9"/>
<line x1="449.2" y1="63.3" x2="449.2" y2="66.9" stroke="#333" stroke-width="1"/>
<line x1="453" y1="63.3" x2="453" y2="66.9" stroke="#333" stroke-width="1"/>
<line x1="457.7" y1="63.3" x2="457.7" y2="66.9" stroke="#333" stroke-width="1"/>
<line x1="462.3" y1="63.3" x2="462.3" y2="66.9" stroke="#333" stroke-width="1"/>
<line x1="470.8" y1="63.3" x2="470.8" y2="66.9" stroke="#333" stroke-width="1"/>
<line x1="473.8" y1="63.3" x2="473.8" y2="66.9" stroke="#333" stroke-width="1"/>
<line x1="481.5" y1="63.3" x2="481.5" y2="66.9" stroke="#333" stroke-width="1"/>
<text x="451" y="54.6" font-size="8.6" font-weight="bold" fill="#222" stroke="#222" stroke-width="0.3" textLength="10.0" lengthAdjust="spacingAndGlyphs">CR</text>
<text x="440.8" y="105.8" font-size="8.3" font-weight="normal" fill="#505050" stroke="#505050" stroke-width="0.25" textLength="19.1" lengthAdjust="spacingAndGlyphs">VGPR</text>
<text x="461.2" y="138.1" font-size="8.3" font-weight="normal" fill="#a8a8a8" stroke="#a8a8a8" stroke-width="0.25" textLength="9.5" lengthAdjust="spacingAndGlyphs">PR</text>
<text x="1.4" y="247.2" font-size="14" font-weight="bold" fill="#000" textLength="9.2" lengthAdjust="spacingAndGlyphs">C</text>
<rect x="27.6" y="258.5" width="219.8" height="179.6" fill="none" stroke="#6b6b6b" stroke-width="1.2"/>
<line x1="24.2" y1="429.0" x2="27.6" y2="429.0" stroke="#333" stroke-width="1"/>
<text x="24.0" y="431.4" font-size="5.6" font-weight="bold" fill="#222" text-anchor="end" textLength="8.8" lengthAdjust="spacingAndGlyphs">0.0</text>
<line x1="24.2" y1="396.7" x2="27.6" y2="396.7" stroke="#333" stroke-width="1"/>
<text x="24.0" y="399.1" font-size="5.6" font-weight="bold" fill="#222" text-anchor="end" textLength="8.8" lengthAdjust="spacingAndGlyphs">0.2</text>
<line x1="24.2" y1="364.3" x2="27.6" y2="364.3" stroke="#333" stroke-width="1"/>
<text x="24.0" y="366.7" font-size="5.6" font-weight="bold" fill="#222" text-anchor="end" textLength="8.8" lengthAdjust="spacingAndGlyphs">0.4</text>
<line x1="24.2" y1="332.0" x2="27.6" y2="332.0" stroke="#333" stroke-width="1"/>
<text x="24.0" y="334.4" font-size="5.6" font-weight="bold" fill="#222" text-anchor="end" textLength="8.8" lengthAdjust="spacingAndGlyphs">0.6</text>
<line x1="24.2" y1="299.6" x2="27.6" y2="299.6" stroke="#333" stroke-width="1"/>
<text x="24.0" y="302.0" font-size="5.6" font-weight="bold" fill="#222" text-anchor="end" textLength="8.8" lengthAdjust="spacingAndGlyphs">0.8</text>
<line x1="24.2" y1="267.3" x2="27.6" y2="267.3" stroke="#333" stroke-width="1"/>
<text x="24.0" y="269.7" font-size="5.6" font-weight="bold" fill="#222" text-anchor="end" textLength="8.8" lengthAdjust="spacingAndGlyphs">1.0</text>
<line x1="38.5" y1="438.1" x2="38.5" y2="440.7" stroke="#333" stroke-width="1"/>
<text x="38.5" y="445.9" font-size="5.4" font-weight="bold" fill="#222" text-anchor="middle">0</text>
<line x1="68.2" y1="438.1" x2="68.2" y2="439.7" stroke="#333" stroke-width="1"/>
<line x1="97.8" y1="438.1" x2="97.8" y2="440.7" stroke="#333" stroke-width="1"/>
<text x="97.8" y="445.9" font-size="5.4" font-weight="bold" fill="#222" text-anchor="middle">24</text>
<line x1="127.5" y1="438.1" x2="127.5" y2="439.7" stroke="#333" stroke-width="1"/>
<line x1="157.1" y1="438.1" x2="157.1" y2="440.7" stroke="#333" stroke-width="1"/>
<text x="157.1" y="445.9" font-size="5.4" font-weight="bold" fill="#222" text-anchor="middle">48</text>
<line x1="186.8" y1="438.1" x2="186.8" y2="439.7" stroke="#333" stroke-width="1"/>
<line x1="216.4" y1="438.1" x2="216.4" y2="440.7" stroke="#333" stroke-width="1"/>
<text x="216.4" y="445.9" font-size="5.4" font-weight="bold" fill="#222" text-anchor="middle">72</text>
<text x="123.2" y="457.8" font-size="7.8" font-weight="bold" fill="#111" stroke="#111" stroke-width="0.25" textLength="28.3" lengthAdjust="spacingAndGlyphs">months</text>
<text transform="translate(7.2,407.7) rotate(-90)" x="0" y="0" font-size="8.2" font-weight="bold" fill="#111" stroke="#111" stroke-width="0.3" textLength="117.2" lengthAdjust="spacingAndGlyphs">Probability of progression-free survival</text>
<polyline points="40.2,268.1 43.1,273.8 46.5,283.0 50.0,291.1 53.5,300.4 56.3,307.3 58.5,313.5 60.8,320.0 65.4,329.2 70.0,340.0 74.6,347.7 80.8,356.9 85.4,364.6 91.5,369.2 96.2,372.3 102.3,376.9 108.5,380.8 114.6,383.8 122.3,387.7 131.9,393.6 138.8,395.4 141.0,395.6 162.5,395.6" fill="none" stroke="#b3b3b3" stroke-width="1.4" stroke-linejoin="miter" stroke-linecap="butt"/>
<polyline points="40.2,268.1 43.1,273.8 46.5,283.0 50.0,291.1 53.5,300.4 56.3,307.3 58.5,313.5 60.8,320.0 65.4,329.2 70.0,340.0 74.6,347.7 80.8,356.9 85.4,364.6 91.5,369.2 96.2,372.3 102.3,376.9 108.5,380.8 114.6,383.8 122.3,387.7 131.9,393.6 138.8,395.4 141.0,395.6" fill="none" stroke="#b3b3b3" stroke-width="2.4" stroke-linejoin="round" stroke-linecap="butt"/>
<circle cx="148.5" cy="395.6" r="1.8" fill="#b3b3b3"/>
<circle cx="159.4" cy="395.6" r="1.8" fill="#b3b3b3"/>
<polyline points="40.2,268.1 47.7,271.5 50.6,275.0 53.5,283.0 56.9,290.0 59.8,296.9 61.5,300.0 63.8,302.7 66.7,308.4 67.7,309.2 72.3,318.5 74.6,329.2 78.5,336.9 85.4,343.1 90.0,351.5 96.2,356.2 102.3,364.6 108.5,372.3 111.5,378.5 119.2,384.6 126.9,388.5 130.2,391.9 136.9,393.6 138.3,399.6 142.3,399.6 142.3,405.7 159.8,405.7 160.5,413.3 163.8,413.3" fill="none" stroke="#747474" stroke-width="1.4" stroke-linejoin="miter" stroke-linecap="butt"/>
<polyline points="40.2,268.1 47.7,271.5 50.6,275.0 53.5,283.0 56.9,290.0 59.8,296.9 61.5,300.0 63.8,302.7 66.7,308.4 67.7,309.2 72.3,318.5 74.6,329.2 78.5,336.9 85.4,343.1 90.0,351.5 96.2,356.2 102.3,364.6 108.5,372.3 111.5,378.5 119.2,384.6 126.9,388.5 130.2,391.9 136.9,393.6 137.0,394.0" fill="none" stroke="#747474" stroke-width="2.4" stroke-linejoin="round" stroke-linecap="butt"/>
<polyline points="40.2,268.1 46.5,271.0 53.5,271.5 60.4,274.4 63.8,276.7 65.0,280.8 69.6,284.2 74.2,291.1 78.8,295.8 84.6,300.4 90.4,305.0 93.1,307.7 96.9,310.8 98.5,314.3 106.9,314.3 110.0,317.7 110.8,320.0 121.5,320.0 123.0,324.6 126.9,325.7 126.9,331.2 159.5,331.2" fill="none" stroke="#333" stroke-width="1.4" stroke-linejoin="miter" stroke-linecap="butt"/>
<polyline points="40.2,268.1 46.5,271.0 53.5,271.5 60.4,274.4 63.8,276.7 65.0,280.8 69.6,284.2 74.2,291.1 78.8,295.8 84.6,300.4 90.4,305.0 93.1,307.7 96.9,310.8 98.5,314.3 106.9,314.3 110.0,317.7 110.8,320.0 121.5,320.0 123.0,324.6 126.7,325.6" fill="none" stroke="#333" stroke-width="2.8" stroke-linejoin="round" stroke-linecap="butt"/>
<circle cx="127.2" cy="331.2" r="1.8" fill="#333"/>
<circle cx="132" cy="331.2" r="1.8" fill="#333"/>
<circle cx="136.8" cy="331.2" r="1.8" fill="#333"/>
<circle cx="142.1" cy="331.2" r="1.8" fill="#333"/>
<text x="140.8" y="318" font-size="8.6" font-weight="bold" fill="#222" stroke="#222" stroke-width="0.3" textLength="10.7" lengthAdjust="spacingAndGlyphs">CR</text>
<text x="121.2" y="364.2" font-size="8.3" font-weight="normal" fill="#505050" stroke="#505050" stroke-width="0.25" textLength="20.9" lengthAdjust="spacingAndGlyphs">VGPR</text>
<text x="120.8" y="418.5" font-size="8.3" font-weight="normal" fill="#a8a8a8" stroke="#a8a8a8" stroke-width="0.25" textLength="10.1" lengthAdjust="spacingAndGlyphs">PR</text>
<text x="272.1" y="248.1" font-size="14" font-weight="bold" fill="#000" textLength="10" lengthAdjust="spacingAndGlyphs">D</text>
<rect x="298.4" y="257.2" width="220.1" height="180.8" fill="none" stroke="#6b6b6b" stroke-width="1.2"/>
<line x1="295.0" y1="429.0" x2="298.4" y2="429.0" stroke="#333" stroke-width="1"/>
<text x="294.8" y="431.4" font-size="5.6" font-weight="bold" fill="#222" text-anchor="end" textLength="8.8" lengthAdjust="spacingAndGlyphs">0.0</text>
<line x1="295.0" y1="396.5" x2="298.4" y2="396.5" stroke="#333" stroke-width="1"/>
<text x="294.8" y="398.9" font-size="5.6" font-weight="bold" fill="#222" text-anchor="end" textLength="8.8" lengthAdjust="spacingAndGlyphs">0.2</text>
<line x1="295.0" y1="364.0" x2="298.4" y2="364.0" stroke="#333" stroke-width="1"/>
<text x="294.8" y="366.4" font-size="5.6" font-weight="bold" fill="#222" text-anchor="end" textLength="8.8" lengthAdjust="spacingAndGlyphs">0.4</text>
<line x1="295.0" y1="331.4" x2="298.4" y2="331.4" stroke="#333" stroke-width="1"/>
<text x="294.8" y="333.8" font-size="5.6" font-weight="bold" fill="#222" text-anchor="end" textLength="8.8" lengthAdjust="spacingAndGlyphs">0.6</text>
<line x1="295.0" y1="298.9" x2="298.4" y2="298.9" stroke="#333" stroke-width="1"/>
<text x="294.8" y="301.3" font-size="5.6" font-weight="bold" fill="#222" text-anchor="end" textLength="8.8" lengthAdjust="spacingAndGlyphs">0.8</text>
<line x1="295.0" y1="266.4" x2="298.4" y2="266.4" stroke="#333" stroke-width="1"/>
<text x="294.8" y="268.8" font-size="5.6" font-weight="bold" fill="#222" text-anchor="end" textLength="8.8" lengthAdjust="spacingAndGlyphs">1.0</text>
<line x1="309.7" y1="438.0" x2="309.7" y2="440.6" stroke="#333" stroke-width="1"/>
<text x="309.7" y="445.8" font-size="5.4" font-weight="bold" fill="#222" text-anchor="middle">0</text>
<line x1="339.4" y1="438.0" x2="339.4" y2="439.6" stroke="#333" stroke-width="1"/>
<line x1="369.0" y1="438.0" x2="369.0" y2="440.6" stroke="#333" stroke-width="1"/>
<text x="369.0" y="445.8" font-size="5.4" font-weight="bold" fill="#222" text-anchor="middle">24</text>
<line x1="398.7" y1="438.0" x2="398.7" y2="439.6" stroke="#333" stroke-width="1"/>
<line x1="428.4" y1="438.0" x2="428.4" y2="440.6" stroke="#333" stroke-width="1"/>
<text x="428.4" y="445.8" font-size="5.4" font-weight="bold" fill="#222" text-anchor="middle">48</text>
<line x1="458.0" y1="438.0" x2="458.0" y2="439.6" stroke="#333" stroke-width="1"/>
<line x1="487.7" y1="438.0" x2="487.7" y2="440.6" stroke="#333" stroke-width="1"/>
<text x="487.7" y="445.8" font-size="5.4" font-weight="bold" fill="#222" text-anchor="middle">72</text>
<text x="394.3" y="458.0" font-size="7.8" font-weight="bold" fill="#111" stroke="#111" stroke-width="0.25" textLength="28.7" lengthAdjust="spacingAndGlyphs">months</text>
<text transform="translate(279.0,392.5) rotate(-90)" x="0" y="0" font-size="8.2" font-weight="bold" fill="#111" stroke="#111" stroke-width="0.3" textLength="89.1" lengthAdjust="spacingAndGlyphs">Overall probability of survival</text>
<polyline points="311.2,265.7 318.8,271.8 326.5,279.5 335.8,285.7 343.8,290.8 353.1,294.2 357.7,298.8 364.6,303.4 370.4,306.9 376.1,310.4 381.9,313.8 388.8,318.4 397.3,328.8 403.1,336.5 406.9,343.3 410.8,350.3 421.5,350.3 430.8,351.0 435.4,354.6 452.3,354.6 452.3,359.7 464.6,359.7" fill="none" stroke="#b3b3b3" stroke-width="1.4" stroke-linejoin="miter" stroke-linecap="butt"/>
<polyline points="311.2,265.7 318.8,271.8 326.5,279.5 335.8,285.7 343.8,290.8 353.1,294.2 357.7,298.8 364.6,303.4 370.4,306.9 376.1,310.4 381.9,313.8 388.8,318.4 397.3,328.8 403.1,336.5 406.9,343.3 410.8,350.3" fill="none" stroke="#b3b3b3" stroke-width="2.4" stroke-linejoin="round" stroke-linecap="butt"/>
<polyline points="311.2,265.7 320.4,269.5 328.1,272.6 335.8,278.0 343.5,284.9 351.2,288.8 358.8,292.6 363.5,294.9 364.0,297.1 369.2,298.8 376.1,301.1 377.3,305.8 381.9,308.1 390.0,312.1 394.4,318.3 399.2,323.1 401.2,325.0 409.8,325.0 409.8,330.8 417.5,330.8 417.5,336.5 419.4,341.3 420.4,348.1 423.8,348.1 423.8,355.8 466.9,355.8" fill="none" stroke="#747474" stroke-width="1.4" stroke-linejoin="miter" stroke-linecap="butt"/>
<polyline points="311.2,265.7 320.4,269.5 328.1,272.6 335.8,278.0 343.5,284.9 351.2,288.8 358.8,292.6 363.5,294.9 364.0,297.1 369.2,298.8 376.1,301.1 377.3,305.8 381.9,308.1 390.0,312.1 394.4,318.3 399.2,323.1 401.2,325.0" fill="none" stroke="#747474" stroke-width="2.4" stroke-linejoin="round" stroke-linecap="butt"/>
<circle cx="429.1" cy="355.8" r="1.8" fill="#747474"/>
<circle cx="435.4" cy="355.8" r="1.8" fill="#747474"/>
<circle cx="445" cy="355.8" r="1.8" fill="#747474"/>
<circle cx="459.9" cy="355.8" r="1.8" fill="#747474"/>
<circle cx="466.2" cy="355.8" r="1.8" fill="#747474"/>
<polyline points="311.2,265.7 317.3,267.5 331.2,267.3 335.8,269.5 341.9,271.1 351.2,271.8 360.4,272.6 363.5,274.2 366.5,277.2 371.2,277.2 375.0,278.8 380.0,279.5 407.2,279.5 407.2,299.9 467.5,299.9" fill="none" stroke="#333" stroke-width="1.4" stroke-linejoin="miter" stroke-linecap="butt"/>
<polyline points="311.2,265.7 317.3,267.5 331.2,267.3 335.8,269.5 341.9,271.1 351.2,271.8 360.4,272.6 363.5,274.2 366.5,277.2 371.2,277.2 375.0,278.8 380.0,279.5 407.0,279.5" fill="none" stroke="#333" stroke-width="2.8" stroke-linejoin="round" stroke-linecap="butt"/>
<line x1="413.3" y1="298.1" x2="413.3" y2="301.7" stroke="#333" stroke-width="1"/>
<line x1="434.3" y1="298.1" x2="434.3" y2="301.7" stroke="#333" stroke-width="1"/>
<line x1="437.6" y1="298.1" x2="437.6" y2="301.7" stroke="#333" stroke-width="1"/>
<line x1="442.4" y1="298.1" x2="442.4" y2="301.7" stroke="#333" stroke-width="1"/>
<line x1="447.4" y1="298.1" x2="447.4" y2="301.7" stroke="#333" stroke-width="1"/>
<line x1="455.5" y1="298.1" x2="455.5" y2="301.7" stroke="#333" stroke-width="1"/>
<line x1="458.6" y1="298.1" x2="458.6" y2="301.7" stroke="#333" stroke-width="1"/>
<line x1="466.9" y1="298.1" x2="466.9" y2="301.7" stroke="#333" stroke-width="1"/>
<text x="450.8" y="292.6" font-size="8.6" font-weight="bold" fill="#222" stroke="#222" stroke-width="0.3" textLength="10.3" lengthAdjust="spacingAndGlyphs">CR</text>
<text x="416.5" y="322.1" font-size="8.3" font-weight="normal" fill="#505050" stroke="#505050" stroke-width="0.25" textLength="20.9" lengthAdjust="spacingAndGlyphs">VGPR</text>
<text x="435.7" y="380.3" font-size="8.3" font-weight="normal" fill="#a8a8a8" stroke="#a8a8a8" stroke-width="0.25" textLength="10.8" lengthAdjust="spacingAndGlyphs">PR</text>
<circle cx="64.6" cy="111.1" r="0.7" fill="#777"/>
<circle cx="203" cy="397" r="0.9" fill="#ddd"/>
<line x1="37.3" y1="30.2" x2="37.3" y2="32.8" stroke="#bbb" stroke-width="0.8"/>
</svg></body></html>
